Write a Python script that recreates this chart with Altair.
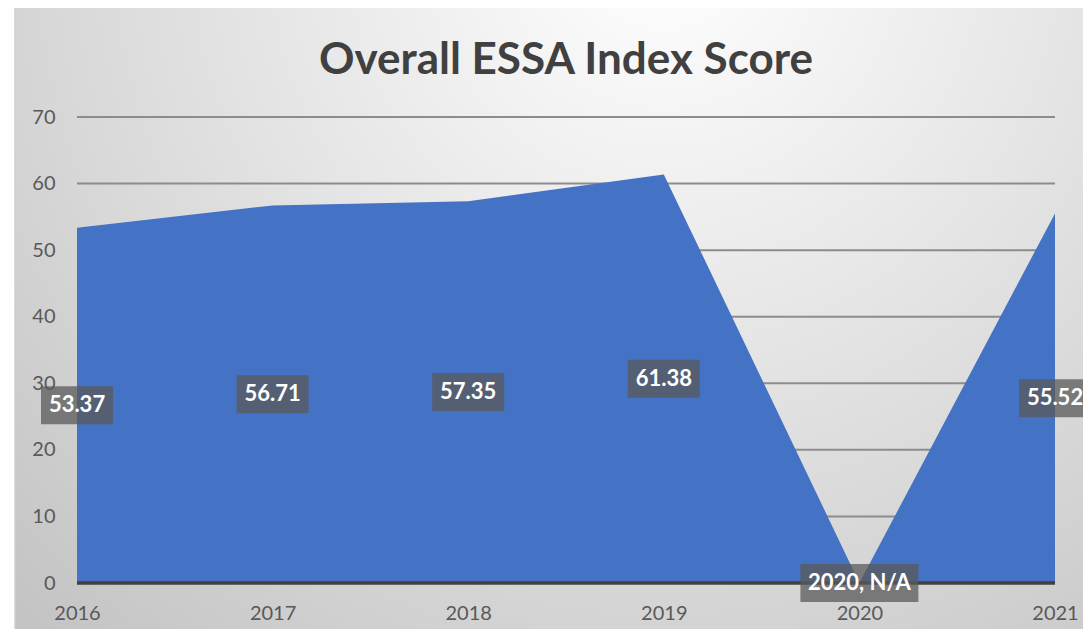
import altair as alt
import pandas as pd

# ---- data ----
years = ["2016", "2017", "2018", "2019", "2020", "2021"]
scores = [53.37, 56.71, 57.35, 61.38, 0.0, 55.52]   # 2020 is N/A (drawn as 0)
labels = ["53.37", "56.71", "57.35", "61.38", "2020, N/A", "55.52"]
y_ticks = [0, 10, 20, 30, 40, 50, 60, 70]
grid_ticks = [10, 20, 30, 40, 50, 60, 70]
baseline_tick = [0]

df = pd.DataFrame({"year": years, "score": scores, "label": labels})
df["mid"] = df["score"] / 2
df["na"] = df["label"].str.contains("N/A")

FONT = "Lato"
W, H = 978, 466

x_axis = alt.Axis(labelAngle=0, title=None, ticks=False, tickSize=0, domain=False,
                  labelColor="#595959", labelFontSize=20, labelFont=FONT,
                  labelPadding=20, zindex=1, grid=False)
y_axis = alt.Axis(values=y_ticks, grid=False, ticks=False, tickSize=0, domain=False,
                  labelColor="#595959", labelFontSize=20, labelFont=FONT,
                  labelPadding=22, title=None, zindex=1)
x_scale = alt.Scale(type="point", padding=0)
y_scale = alt.Scale(domain=[0, 70], nice=False, zero=True)

# background panel with radial gradient
bg = alt.Chart(alt.Data(values=[{"a": 1}])).mark_rect(
    fill={"gradient": "radial", "x1": 0.6, "y1": 0.15, "r1": 0.0,
          "x2": 0.6, "y2": 0.15, "r2": 0.95,
          "stops": [{"offset": 0, "color": "#ffffff"},
                    {"offset": 0.35, "color": "#e8e8e8"},
                    {"offset": 1, "color": "#bdbdbd"}]},
    stroke="#d0d0d0", strokeWidth=1.5, clip=False,
).encode(x=alt.value(-62), x2=alt.value(1020), y=alt.value(-110), y2=alt.value(530))

grid = alt.Chart(pd.DataFrame({"t": grid_ticks})).mark_rule(
    color="#8c8c8c", strokeWidth=2
).encode(y=alt.Y("t:Q", scale=y_scale, axis=y_axis))

area = alt.Chart(df).mark_area(color="#4472C4", opacity=1).encode(
    x=alt.X("year:O", scale=x_scale, axis=x_axis),
    y=alt.Y("score:Q", scale=y_scale, axis=y_axis),
)

zero_line = alt.Chart(pd.DataFrame({"t": baseline_tick})).mark_rule(
    color="#404040", strokeWidth=3.5
).encode(y=alt.Y("t:Q", scale=y_scale, axis=y_axis))

box_num = alt.Chart(df).transform_filter("!datum.na").mark_rect(
    width=72, height=38, fill="#595959", opacity=0.75
).encode(x=alt.X("year:O", scale=x_scale, axis=x_axis),
         y=alt.Y("mid:Q", scale=y_scale, axis=y_axis))

box_na = alt.Chart(df).transform_filter("datum.na").mark_rect(
    width=118, height=38, fill="#595959", opacity=0.75
).encode(x=alt.X("year:O", scale=x_scale, axis=x_axis),
         y=alt.Y("mid:Q", scale=y_scale, axis=y_axis))

text = alt.Chart(df).mark_text(
    color="white", fontSize=22, fontWeight="bold", font=FONT, baseline="middle", align="center"
).encode(x=alt.X("year:O", scale=x_scale, axis=x_axis),
         y=alt.Y("mid:Q", scale=y_scale, axis=y_axis), text="label:N")

chart = alt.layer(bg, grid, area, zero_line, box_num, box_na, text).properties(
    width=W, height=H,
    autosize=alt.AutoSizeParams(type="none"),
    padding={"left": 69, "top": 109, "right": 28, "bottom": 46},
    title=alt.TitleParams("Overall ESSA Index Score", font=FONT, fontSize=44,
                          fontWeight="bold", color="#404040", anchor="middle",
                          frame="group", baseline="alphabetic", offset=-112),
    background="white",
).configure_view(stroke=None)

chart.save("out.html", embed_options={"renderer": "svg", "actions": False})
